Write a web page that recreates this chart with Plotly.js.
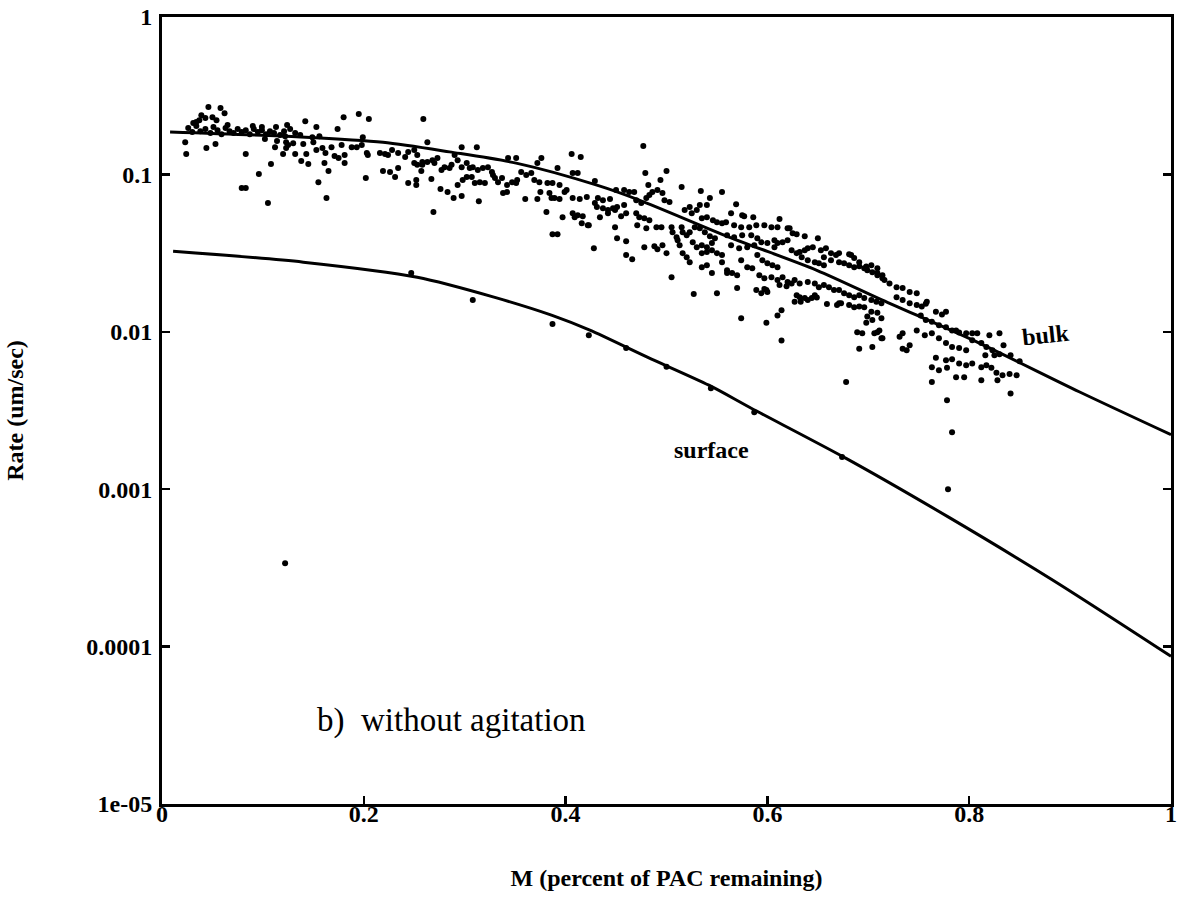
<!DOCTYPE html>
<html>
<head>
<meta charset="utf-8">
<script src="https://cdn.plot.ly/plotly-3.0.1.min.js"></script>
<style>html,body{margin:0;padding:0;background:#fff;}#chart{width:1183px;height:910px;}</style>
</head>
<body>
<div id="chart"></div>
<script>
// Model curves (M = fraction of PAC remaining, rate in um/sec)
const bulkM    = [0.008, 0.137, 0.219, 0.285, 0.351, 0.431, 0.473, 0.562, 0.649, 0.714, 0.810, 0.909, 1.0];
const bulkRate = [0.186, 0.173, 0.160, 0.139, 0.118, 0.0855, 0.0687, 0.040, 0.0246, 0.0159, 0.00847, 0.00416, 0.00222];

const surfM    = [0.011, 0.140, 0.253, 0.329, 0.386, 0.424, 0.481, 0.542, 0.584, 0.678, 0.780, 0.883, 1.0];
const surfRate = [0.0325, 0.0277, 0.0222, 0.0166, 0.01276, 0.01024, 0.0069, 0.00458, 0.00327, 0.00157, 0.000662, 0.000264, 0.0000867];

// Measured points [M, rate], grouped by region of the plot
const obsA = [[.023,.160],[.024,.135],[.039,.238],[.043,.228],[.044,.147],[.046,.268],[.050,.231],[.053,.156],[.054,.221],[.058,.264],[.062,.245],[.034,.215],[.083,.135],[.079,.0819],[.083,.0819],[.105,.0657],[.096,.1005],[.108,.1163],[.112,.149],[.120,.135],[.132,.135],[.124,.206],[.113,.200],[.127,.194],[.102,.1676],[.114,.1628],[.123,.160],[.125,.154],[.142,.218],[.153,.200],[.174,.194],[.180,.231],[.195,.242],[.123,.147],[.130,.158],[.138,.1215],[.143,.135],[.145,.1163],[.140,.156],[.150,.160],[.153,.143],[.159,.147],[.162,.137],[.161,.118],[.165,.105],[.155,.0893],[.163,.0707],[.171,.131],[.175,.127],[.168,.149],[.178,.154],[.181,.118],[.188,.149],[.193,.149],[.181,.133],
[.026,.197],[.030,.186],[.034,.203],[.038,.188],[.043,.194],[.048,.183],[.051,.200],[.055,.191],[.059,.180],[.063,.197],[.067,.188],[.071,.183],[.075,.194],[.079,.186],[.083,.191],[.087,.180],[.091,.194],[.095,.186],[.099,.191],[.103,.180],[.107,.188],[.111,.183],[.117,.178],[.121,.188],[.031,.212],[.037,.221],[.065,.206],[.090,.203],[.099,.200],[.122,.175],[.132,.183],[.137,.178],[.149,.1725],[.156,.175]];

const obsB = [[.205,.225],[.259,.225],[.199,.1725],[.263,.160],[.297,.149],[.312,.149],[.343,.127],[.351,.127],[.376,.127],[.372,.118],[.198,.154],[.203,.137],[.204,.133],[.216,.137],[.221,.135],[.224,.133],[.228,.143],[.234,.137],[.241,.129],[.244,.139],[.250,.143],[.253,.133],[.250,.118],[.253,.115],[.258,.120],[.263,.120],[.268,.123],[.273,.127],[.270,.118],[.277,.1065],[.280,.111],[.285,.110],[.287,.115],[.290,.133],[.293,.123],[.297,.111],[.302,.118],[.305,.110],[.308,.111],[.313,.1065],[.318,.110],[.323,.111],[.327,.1034],[.330,.0947],[.333,.0893],[.328,.099],[.337,.0947],[.342,.0855],[.347,.0893],[.351,.0881],[.352,.092],[.356,.1034],[.361,.099],[.366,.102],[.369,.092],[.374,.0893],[.382,.0881],[.307,.0961],[.310,.0881],[.315,.0893],[.320,.0881],[.338,.0761],[.342,.0772],[.219,.105],[.226,.1034],[.231,.0961],[.234,.110],[.244,.0881],[.252,.092],[.252,.0855],[.257,.105],[.258,.115],[.267,.0934],[.276,.0807],[.283,.0772],[.289,.0707],[.297,.0728],[.293,.0855],[.298,.092],[.302,.0961],[.314,.0676],[.202,.0947],[.269,.0576],[.360,.0697],[.372,.0697],[.375,.0772],[.384,.0761],[.381,.0576],[.387,.0417],[.386,.0707],[.406,.135],[.415,.1288],[.392,.110],[.397,.0535],[.407,.0567],[.416,.049],[.422,.0476],[.428,.034],[.429,.0657],[.392,.0417]];

const obsC = [[.477,.1514],[.479,.102],[.500,.105],[.494,.092],[.482,.0855],[.515,.0833],[.534,.0783],[.555,.0772],[.407,.102],[.412,.102],[.429,.0907],[.387,.0881],[.394,.0855],[.401,.0795],[.399,.0772],[.389,.0707],[.394,.0697],[.407,.0707],[.414,.0697],[.421,.0718],[.432,.0707],[.437,.0686],[.444,.0697],[.431,.062],[.437,.061],[.442,.0593],[.447,.061],[.451,.062],[.458,.0638],[.450,.0795],[.458,.0795],[.463,.0772],[.468,.0772],[.470,.0686],[.475,.0657],[.480,.0707],[.483,.0739],[.486,.0772],[.491,.0795],[.496,.0761],[.498,.0686],[.503,.0667],[.409,.0535],[.412,.0551],[.417,.0543],[.423,.0476],[.434,.0535],[.442,.0567],[.449,.0593],[.455,.0543],[.460,.0567],[.470,.0567],[.473,.0535],[.478,.0527],[.483,.0512],[.490,.0462],[.495,.0462],[.471,.0476],[.480,.0455],[.449,.0462],[.451,.0393],[.460,.0376],[.478,.0345],[.488,.035],[.491,.0335],[.496,.0355],[.500,.0316],[.460,.0307],[.466,.0289],[.505,.0222],[.505,.0462],[.506,.0429],[.510,.0399],[.515,.0462],[.516,.0429],[.520,.0411],[.523,.0429],[.511,.0382],[.513,.0355],[.516,.0316],[.520,.0298],[.523,.0277],[.518,.0593],[.523,.062],[.525,.0567],[.530,.0593],[.533,.0638],[.540,.0638],[.543,.0707],[.535,.0527],[.540,.0535],[.546,.0512],[.550,.0497],[.555,.049],[.528,.0462],[.533,.0455],[.538,.0429],[.543,.0405],[.548,.0393],[.526,.0371],[.530,.0345],[.535,.0355],[.540,.0345],[.545,.0366],[.535,.0316],[.540,.0321],[.545,.033],[.550,.0316],[.555,.0307],[.535,.0257],[.540,.0265],[.545,.0236],[.555,.0277],[.560,.0236],[.527,.0174],[.550,.0176]];

const obsD = [[.569,.0647],[.575,.0551],[.586,.0535],[.612,.052],[.622,.0455],[.637,.0405],[.650,.0393],[.658,.034],[.681,.0311],[.698,.026],[.709,.0229],[.714,.0219],[.570,.019],[.589,.0184],[.599,.0184],[.574,.0122],[.599,.0114],[.610,.0127],[.614,.0137],[.614,.0088],[.627,.0155],[.640,.0159],[.649,.0165],[.659,.015],[.671,.0152],[.691,.0078],[.694,.0098],[.706,.0098],[.714,.0091],[.564,.0567],[.577,.0543],[.559,.0497],[.567,.0476],[.574,.0462],[.582,.0462],[.589,.0476],[.597,.0476],[.604,.0462],[.610,.0462],[.620,.0455],[.625,.0423],[.629,.0417],[.560,.0411],[.567,.0399],[.575,.0411],[.584,.0411],[.590,.0393],[.564,.0355],[.572,.034],[.580,.0345],[.587,.0355],[.594,.0371],[.600,.0366],[.607,.0345],[.607,.0382],[.610,.0366],[.615,.0371],[.620,.0382],[.624,.033],[.629,.0316],[.632,.0321],[.637,.033],[.640,.034],[.645,.0345],[.634,.0298],[.640,.0285],[.647,.0277],[.651,.0273],[.656,.0265],[.653,.033],[.663,.0316],[.668,.0307],[.671,.0316],[.656,.0298],[.663,.0285],[.671,.0277],[.676,.0273],[.681,.0265],[.686,.0257],[.691,.0261],[.696,.0253],[.699,.0246],[.704,.0239],[.709,.0236],[.714,.0229],[.683,.0307],[.686,.0294],[.691,.0277],[.703,.0265],[.709,.0253],[.590,.0307],[.595,.0285],[.600,.0273],[.605,.0265],[.610,.0257],[.574,.0285],[.580,.0257],[.585,.0253],[.560,.0246],[.565,.0236],[.570,.0229],[.592,.0229],[.597,.0219],[.604,.0222],[.610,.0213],[.615,.0222],[.620,.0207],[.627,.0213],[.632,.0203],[.640,.0207],[.647,.0203],[.651,.0192],[.656,.0198],[.661,.0192],[.666,.0184],[.671,.0184],[.676,.0176],[.681,.0171],[.686,.0166],[.691,.0171],[.696,.0164],[.703,.0159],[.708,.0155],[.713,.0152],[.597,.0187],[.600,.0179],[.594,.0176],[.612,.0198],[.619,.0195],[.624,.0203],[.629,.0171],[.632,.0166],[.637,.0164],[.644,.0164],[.647,.0171],[.633,.0155],[.669,.0148],[.673,.0152],[.681,.0148],[.686,.0143],[.691,.0145],[.696,.0143],[.703,.0134],[.709,.0132],[.699,.0125],[.704,.0119],[.713,.0122],[.709,.00995],[.713,.0091],[.704,.0080],[.698,.0114],[.678,.00479]];

const obsE = [[.716,.0213],[.721,.0203],[.728,.0192],[.734,.019],[.741,.0179],[.748,.0176],[.728,.0166],[.734,.0159],[.741,.0152],[.748,.0148],[.753,.0145],[.758,.0155],[.767,.0134],[.777,.0134],[.752,.0127],[.757,.0119],[.763,.0116],[.770,.011],[.777,.0107],[.783,.0102],[.790,.0099],[.797,.0098],[.808,.0098],[.763,.0098],[.770,.0091],[.777,.0085],[.783,.0080],[.790,.0079],[.797,.00764],[.767,.00684],[.777,.0066],[.783,.0067],[.790,.0063],[.797,.00613],[.803,.0063],[.812,.00595],[.817,.00613],[.822,.0059],[.827,.0055],[.833,.0053],[.840,.0054],[.847,.0053],[.763,.00595],[.770,.0057],[.778,.0059],[.787,.00515],[.795,.00515],[.812,.00493],[.828,.00493],[.830,.0098],[.823,.00764],[.830,.0072],[.803,.00884],[.812,.0085],[.689,.00995],[.711,.0102],[.763,.00479],[.778,.00367],[.841,.00405],[.783,.0023],[.779,.001],[.738,.00764],[.741,.0082],[.731,.0093],[.734,.0098],[.820,.0095],[.834,.0082],[.841,.0071],[.825,.0071],[.850,.0065],[.816,.0071],[.757,.0151],[.773,.0129],[.787,.0102],[.803,.0098],[.817,.0080],[.734,.0078],[.748,.0102],[.756,.0095]];

const obsLow = [[.247,.0236],[.308,.0159],[.387,.0112],[.423,.00951],[.460,.0079],[.500,.0060],[.544,.00438],[.587,.00308],[.674,.0016],[.122,.000338]];

const xTickVals = [0, 0.2, 0.4, 0.6, 0.8, 1];
const xTickText = ['0', '0.2', '0.4', '0.6', '0.8', '1'];
const yTickVals = [1e-5, 1e-4, 1e-3, 1e-2, 1e-1, 1];
const yTickText = ['1e-05', '0.0001', '0.001', '0.01', '0.1', '1'];

const allObs = [].concat(obsA, obsB, obsC, obsD, obsE, obsLow);
const serif = 'Liberation Serif, Times New Roman, serif';

const traces = [
  {x: allObs.map(p => p[0]), y: allObs.map(p => p[1]), type: 'scatter', mode: 'markers',
   marker: {color: '#000', size: 6}, hoverinfo: 'skip', showlegend: false},
  {x: bulkM, y: bulkRate, type: 'scatter', mode: 'lines',
   line: {color: '#000', width: 3, shape: 'spline', smoothing: 0.8}, showlegend: false},
  {x: surfM, y: surfRate, type: 'scatter', mode: 'lines',
   line: {color: '#000', width: 3, shape: 'spline', smoothing: 0.8}, showlegend: false}
];

const tickFont = {family: serif, size: 24, color: '#000', weight: 'bold'};
const layout = {
  width: 1183, height: 910,
  margin: {l: 162, r: 12, t: 17, b: 106},
  paper_bgcolor: '#fff', plot_bgcolor: '#fff',
  showlegend: false,
  xaxis: {
    range: [0, 1], tickvals: xTickVals, ticktext: xTickText,
    ticks: 'inside', ticklen: 8, tickwidth: 2.5, tickcolor: '#000',
    showline: true, linewidth: 3, linecolor: '#000', mirror: true,
    showgrid: false, zeroline: false, tickfont: tickFont, ticklabelstandoff: -14,
    title: {text: 'M (percent of PAC remaining)', font: {family: serif, size: 24, color: '#000', weight: 'bold'}, standoff: 44}
  },
  yaxis: {
    type: 'log', range: [-5, 0], tickvals: yTickVals, ticktext: yTickText,
    ticks: 'inside', ticklen: 8, tickwidth: 2.5, tickcolor: '#000',
    showline: true, linewidth: 3, linecolor: '#000', mirror: 'ticks',
    showgrid: false, zeroline: false, tickfont: tickFont, ticklabelstandoff: 2,
    title: {text: 'Rate (um/sec)', font: {family: serif, size: 24, color: '#000', weight: 'bold'}, standoff: 56}
  },
  annotations: [
    {x: 0.876, y: -2.02, xref: 'x', yref: 'y', text: 'bulk', showarrow: false, textangle: -6,
     font: {family: serif, size: 24, color: '#000', weight: 'bold'}},
    {x: 0.545, y: -2.75, xref: 'x', yref: 'y', text: 'surface', showarrow: false,
     font: {family: serif, size: 24, color: '#000', weight: 'bold'}},
    {x: 0.287, y: -4.47, xref: 'x', yref: 'y', text: 'b)  without agitation', showarrow: false,
     font: {family: serif, size: 33, color: '#000'}}
  ]
};

Plotly.newPlot('chart', traces, layout, {displayModeBar: false, staticPlot: true});
</script>
</body>
</html>
